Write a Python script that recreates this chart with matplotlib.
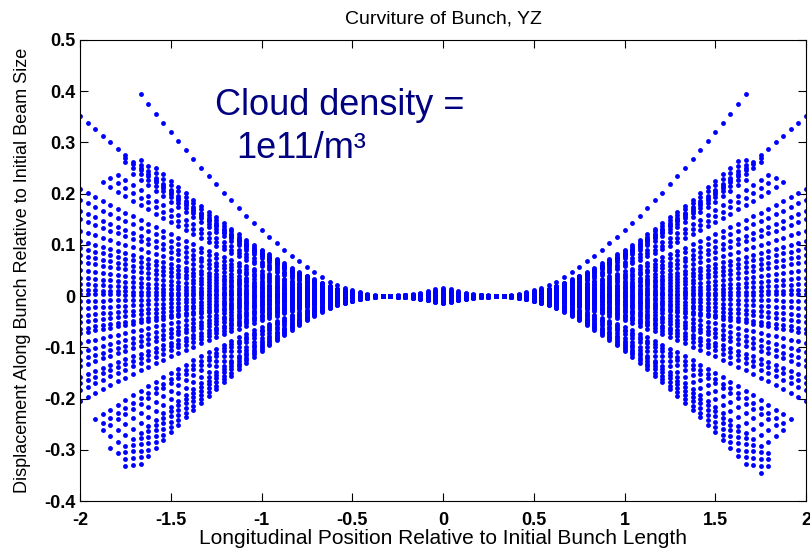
import numpy as np
import matplotlib.pyplot as plt

plt.rcParams['font.family'] = ['Liberation Sans', 'DejaVu Sans']
plt.rcParams['axes.unicode_minus'] = False

# longitudinal slices are 1/24 bunch length apart; gain of the transverse
# displacement per slice, from the bunch centre out to |z| = 2
slice_step = 1 / 24
slice_gain = [0.030, 0.024, 0.017, 0.011, 0.007, 0.005, 0.003, 0.001, 0.000, 0.003,
              0.008, 0.014, 0.022, 0.030, 0.038, 0.051, 0.066, 0.084, 0.103, 0.122,
              0.142, 0.164, 0.186, 0.209, 0.233, 0.257, 0.283, 0.310, 0.337, 0.365,
              0.394, 0.423, 0.453, 0.483, 0.514, 0.545, 0.577, 0.610, 0.643, 0.677,
              0.711, 0.745, 0.780, 0.816, 0.852, 0.888, 0.925, 0.962, 1.000]

# core particles run the full bunch length; amplitude = displacement at |z| = 2
core_amp = [0.352, 0.209, 0.188, 0.166, 0.150, 0.128, 0.108, 0.094, 0.080, 0.067,
            0.051, 0.036, 0.024, 0.012, 0.004, -0.010, -0.024, -0.038, -0.050, -0.064,
            -0.072, -0.092, -0.110, -0.124, -0.137, -0.158, -0.170, -0.184, -0.204]

# halo particles stop short of the bunch ends
halo_amp = [0.554, 0.25, 0.27, 0.29, 0.32, 0.335, 0.345, 0.36, 0.375, 0.39,
            -0.26, -0.28, -0.295, -0.32, -0.348, -0.375, -0.39, -0.407, -0.425, -0.443, -0.46]
halo_reach_left = [1.70, 1.90, 1.85, 1.82, 1.74, 1.78, 1.75, 1.70, 1.69, 1.62,
                   1.92, 1.90, 1.89, 1.86, 1.84, 1.80, 1.78, 1.79, 1.76, 1.73, 1.69]
halo_reach_right = [1.68, 1.88, 1.86, 1.80, 1.70, 1.75, 1.77, 1.68, 1.67, 1.65,
                    1.93, 1.90, 1.89, 1.87, 1.83, 1.82, 1.80, 1.80, 1.78, 1.75, 1.70]

xticks = [-2, -1.5, -1, -0.5, 0, 0.5, 1, 1.5, 2]
xticklabels = ['-2', '-1.5', '-1', '-0.5', '0', '0.5', '1', '1.5', '2']
yticks = [0.5, 0.4, 0.3, 0.2, 0.1, 0, -0.1, -0.2, -0.3, -0.4]
yticklabels = ['0.5', '0.4', '0.3', '0.2', '0.1', '0', '-0.1', '-0.2', '-0.3', '-0.4']

gain = np.array(slice_gain)
z_half = np.arange(len(gain)) * slice_step

amps = core_amp + halo_amp
reach_l = [2.0] * len(core_amp) + halo_reach_left
reach_r = [2.0] * len(core_amp) + halo_reach_right

zs, ys = [], []
for a, rl, rr in zip(amps, reach_l, reach_r):
    left = z_half <= rl + 1e-9
    zs.append(-z_half[left])
    ys.append(a * gain[left])
    right = (z_half > 0) & (z_half <= rr + 1e-9)
    zs.append(z_half[right])
    ys.append(a * gain[right])
z = np.concatenate(zs)
y = np.concatenate(ys)

fig = plt.figure(figsize=(8.1, 5.52), dpi=100)
ax = fig.add_axes([80 / 810, 51 / 552, 726 / 810, 461 / 552])
ax.plot(z, y, linestyle='none', marker='o', ms=3.5, mew=0, color='#0000ff')

ax.set_xlim(-2, 2)
ax.set_ylim(-0.4, 0.5)
ax.set_xticks(xticks)
ax.set_xticklabels(xticklabels)
ax.set_yticks(yticks)
ax.set_yticklabels(yticklabels)
ax.tick_params(direction='in', top=True, right=True, length=6, width=0.8,
               labelsize=13, pad=3)
ax.tick_params(axis='x', pad=8)
for lab in ax.get_xticklabels() + ax.get_yticklabels():
    lab.set_fontweight('bold')
for s in ax.spines.values():
    s.set_linewidth(0.8)

ax.set_title('Curviture of Bunch, YZ', fontsize=14, pad=12)
ax.set_xlabel('Longitudinal Position Relative to Initial Bunch Length', fontsize=15, labelpad=0)
ax.set_ylabel('Displacement Along Bunch Relative to Initial Beam Size', fontsize=13, labelpad=10)

ax.text(-1.256, 0.3535, 'Cloud density =', color='#000080', fontsize=26)
ax.text(-1.14, 0.2695, '1e11/m³', color='#000080', fontsize=26)

fig.savefig('out.png', dpi=100)
